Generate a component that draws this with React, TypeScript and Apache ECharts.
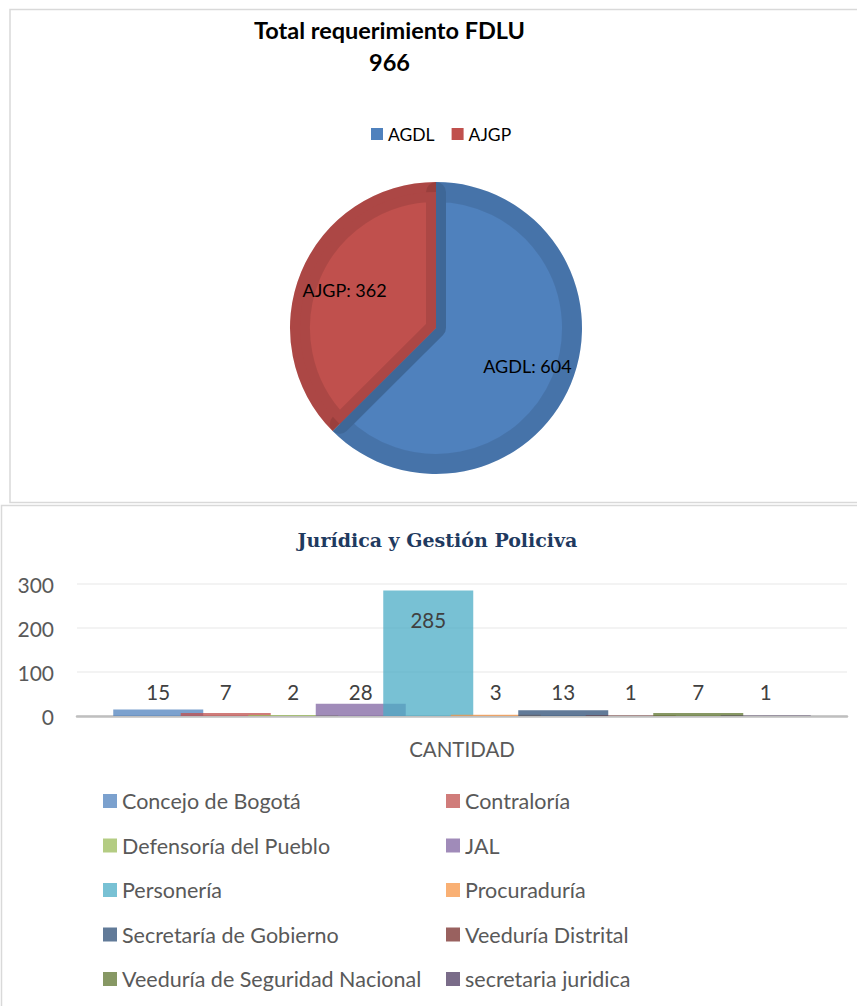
import React, { useEffect, useRef } from "react";
import * as echarts from "echarts";

// ---- Pie data ----
const pieNames = ["AGDL", "AJGP"];
const pieValues = [604, 362];
const pieFill = ["#4F81BD", "#C0504D"];
const pieTitle = "Total requerimiento FDLU";

// ---- Bar data ----
const barCategories = ["CANTIDAD"];
const barNames = [
  "Concejo de Bogotá",
  "Contraloría",
  "Defensoría del Pueblo",
  "JAL",
  "Personería",
  "Procuraduría",
  "Secretaría de Gobierno",
  "Veeduría Distrital",
  "Veeduría de Seguridad Nacional",
  "secretaria juridica",
];
const barValues = [15, 7, 2, 28, 285, 3, 13, 1, 7, 1];
const barColors = [
  "rgba(79,129,189,0.75)",
  "rgba(192,80,77,0.75)",
  "rgba(155,187,89,0.75)",
  "rgba(128,100,162,0.75)",
  "rgba(75,172,198,0.75)",
  "rgba(247,150,70,0.75)",
  "rgba(44,77,117,0.75)",
  "rgba(119,44,42,0.75)",
  "rgba(95,117,48,0.75)",
  "rgba(77,59,98,0.75)",
];
const barTitle = "Jurídica y Gestión Policiva";
const yMin = 0;
const yMax = 300;
const yInterval = 100;

const FONT = "Lato, 'Open Sans', sans-serif";

export default function App() {
  const ref = useRef<HTMLDivElement>(null);

  useEffect(() => {
    document.body.style.margin = "0";
    if (!ref.current) return;
    const chart = echarts.init(ref.current, undefined, { renderer: "svg" });
    const total = pieValues.reduce((a, b) => a + b, 0);
    const pieData = pieNames.map((n, i) => ({
      name: n,
      value: pieValues[i],
      itemStyle: { color: pieFill[i] },
    }));

    const legendBar = (idxs: number[], left: number) => ({
      orient: "vertical",
      left,
      top: 790,
      padding: 0,
      icon: "rect",
      itemWidth: 14,
      itemHeight: 14,
      itemGap: 22.5,
      selectedMode: false,
      data: idxs.map((i) => barNames[i]),
      textStyle: { fontFamily: FONT, fontSize: 21.5, color: "#595959", lineHeight: 21 },
    });

    const option: any = {
      animation: false,
      graphic: [
        {
          type: "rect",
          shape: { x: 10, y: 9.5, width: 900, height: 493 },
          style: { fill: "none", stroke: "#D9D9D9", lineWidth: 1.5 },
          silent: true,
        },
        {
          type: "rect",
          shape: { x: 1.5, y: 505.5, width: 900, height: 600 },
          style: { fill: "none", stroke: "#D9D9D9", lineWidth: 1.5 },
          silent: true,
        },
        {
          type: "text",
          x: 389.5,
          y: 30,
          style: {
            text: pieTitle,
            align: "center",
            verticalAlign: "middle",
            fontFamily: FONT,
            fontWeight: "bold",
            fontSize: 23.5,
            fill: "#000",
          },
        },
        {
          type: "text",
          x: 389.5,
          y: 62,
          style: {
            text: String(total),
            align: "center",
            verticalAlign: "middle",
            fontFamily: FONT,
            fontWeight: "bold",
            fontSize: 23.5,
            fill: "#000",
          },
        },
        {
          type: "text",
          x: 437.5,
          y: 540,
          style: {
            text: barTitle,
            align: "center",
            verticalAlign: "middle",
            fontFamily: "'DejaVu Serif', serif",
            fontWeight: "bold",
            fontSize: 19,
            fill: "#1F3A60",
          },
        },
      ],
      legend: [
        {
          left: 371,
          top: 125,
          padding: 0,
          icon: "rect",
          itemWidth: 12,
          itemHeight: 12,
          itemGap: 17,
          selectedMode: false,
          data: pieNames.map((n, i) => ({ name: n, itemStyle: { color: pieFill[i] } })),
          textStyle: { fontFamily: FONT, fontSize: 17.5, color: "#000" },
        },
        legendBar([0, 2, 4, 6, 8], 103),
        legendBar([1, 3, 5, 7, 9], 446),
      ],
      grid: { left: 77, right: 10, top: 584, height: 132 },
      xAxis: {
        type: "category",
        data: barCategories,
        axisLine: { lineStyle: { color: "#BFBFBF", width: 2.5 } },
        axisTick: { show: false },
        axisLabel: { fontFamily: FONT, fontSize: 20.5, color: "#595959", margin: 22 },
      },
      yAxis: {
        type: "value",
        min: yMin,
        max: yMax,
        interval: yInterval,
        axisLine: { show: false },
        axisTick: { show: false },
        splitLine: { lineStyle: { color: "#EFEFEF", width: 1.5 } },
        axisLabel: { fontFamily: FONT, fontSize: 21, color: "#595959", margin: 23 },
      },
      series: [
        {
          type: "pie",
          center: [436, 328],
          radius: 146,
          silent: true,
          label: { show: false },
          labelLine: { show: false },
          emphasis: { disabled: true },
          data: pieData,
        },
        {
          type: "pie",
          center: [436, 328],
          radius: 136,
          silent: true,
          label: { show: false },
          labelLine: { show: false },
          emphasis: { disabled: true },
          itemStyle: { borderColor: "rgba(0,0,0,0.1)", borderWidth: 20 },
          data: pieData,
        },
        {
          type: "pie",
          center: [436, 328],
          radius: 192,
          silent: true,
          emphasis: { disabled: true },
          labelLine: { show: false },
          label: {
            show: true,
            position: "inside",
            formatter: "{b}: {c}",
            fontFamily: FONT,
            fontSize: 18,
            color: "#000",
          },
          data: pieNames.map((n, i) => ({
            name: n,
            value: pieValues[i],
            itemStyle: { color: "rgba(0,0,0,0)" },
          })),
        },
        ...barNames.map((n, i) => ({
          type: "bar",
          name: n,
          data: [barValues[i]],
          barWidth: 90,
          barGap: "-25%",
          itemStyle: { color: barColors[i] },
          label: {
            show: true,
            position: barValues[i] > 100 ? "insideTop" : "insideBottom",
            distance: barValues[i] > 100 ? 19 : 14,
            fontFamily: FONT,
            fontSize: 20.5,
            color: "#404040",
          },
        })),
      ],
    };
    chart.setOption(option);
    return () => chart.dispose();
  }, []);

  return <div ref={ref} style={{ width: 857, height: 1006 }} />;
}
